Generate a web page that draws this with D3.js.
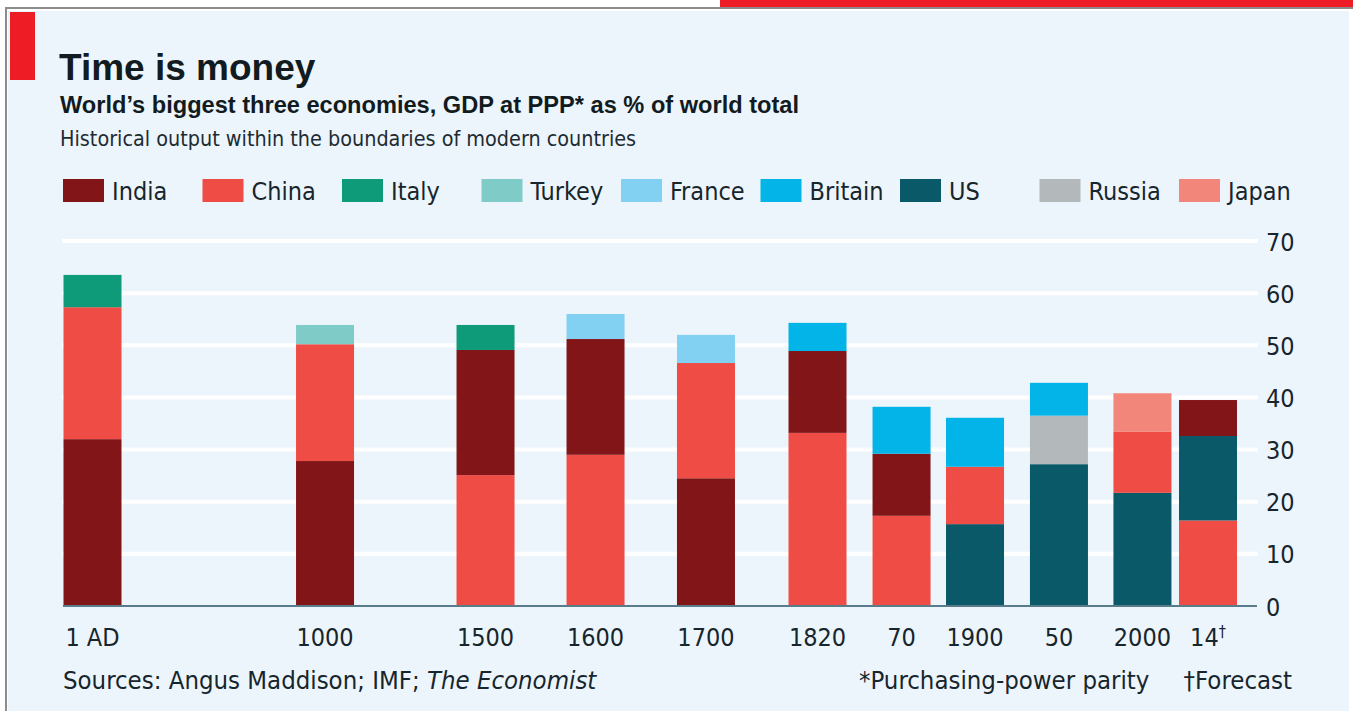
<!DOCTYPE html>
<html>
<head>
<meta charset="utf-8">
<script src="https://cdn.jsdelivr.net/npm/d3@7"></script>
<style>
  body { margin: 0; background: #fff; }
  svg { display: block; }
  .lab { font-family: 'DejaVu Sans Condensed', 'DejaVu Sans', sans-serif; font-stretch: condensed; fill: #17252c; }
  .head { font-family: 'Liberation Sans', Arial, sans-serif; fill: #111b20; }
</style>
</head>
<body>
<div id="chart"></div>
<script>
// periods shown on the x axis
const periods = ['1 AD', '1000', '1500', '1600', '1700', '1820', '70', '1900', '50', '2000', '14']
const countries = ['India', 'China', 'Italy', 'Turkey', 'France', 'Britain', 'US', 'Russia', 'Japan']

// GDP at PPP, % of world total (only the biggest three of each period)
const india   = [32.0, 27.8, 24.0, 22.2, 24.5, 15.7, 11.9, null, null, null, 6.9]
const china   = [25.3, 22.4, 25.1, 29.0, 22.1, 33.2, 17.3, 11.0, null, 11.7, 16.4]
const italy   = [6.2, null, 4.8, null, null, null, null, null, null, null, null]
const turkey  = [null, 3.7, null, null, null, null, null, null, null, null, null]
const france  = [null, null, null, 4.8, 5.4, null, null, null, null, null, null]
const britain = [null, null, null, null, null, 5.4, 9.0, 9.4, 6.3, null, null]
const us      = [null, null, null, null, null, null, null, 15.7, 27.2, 21.7, 16.2]
const russia  = [null, null, null, null, null, null, null, null, 9.3, null, null]
const japan   = [null, null, null, null, null, null, null, null, null, 7.4, null]

const yTicks = [0, 10, 20, 30, 40, 50, 60, 70]

const series = { India: india, China: china, Italy: italy, Turkey: turkey, France: france,
    Britain: britain, US: us, Russia: russia, Japan: japan }

const colors = {
    India: '#811518', China: '#ef4c45', Italy: '#0e9b79', Turkey: '#7ecbc8', France: '#82d0f2',
    Britain: '#03b4e8', US: '#0a5969', Russia: '#b3b8bb', Japan: '#f3867a'
}

// bar spacing on the page is not linear in time, so lay the periods out on slots
const slots = [0, 2.114, 3.573, 4.573, 5.577, 6.591, 7.355, 8.023, 8.786, 9.545, 10.141]

const width = 1353
const height = 711
const barW = 58
const labSize = '25px'

const svg = d3.select('#chart').append('svg')
    .attr('width', width)
    .attr('height', height)

// frame
svg.append('rect').attr('x', 720).attr('y', 0).attr('width', width - 720).attr('height', 7).attr('fill', '#ee1c25')
svg.append('line').attr('x1', 5).attr('x2', width).attr('y1', 8).attr('y2', 8).attr('stroke', '#8c8c8c').attr('stroke-width', 2)
svg.append('line').attr('x1', 6).attr('x2', 6).attr('y1', 8).attr('y2', height).attr('stroke', '#8c8c8c').attr('stroke-width', 2)
svg.append('rect').attr('x', 8).attr('y', 11).attr('width', 1341).attr('height', height - 11).attr('fill', '#edf5fc')
svg.append('rect').attr('x', 10).attr('y', 12).attr('width', 25).attr('height', 68).attr('fill', '#ee1c25')

// titles
svg.append('text').attr('class', 'head').attr('x', 59).attr('y', 80)
    .style('font-size', '37px').style('font-weight', 'bold').text('Time is money')
svg.append('text').attr('class', 'head').attr('x', 60).attr('y', 113)
    .style('font-size', '23.6px').style('font-weight', 'bold')
    .text('World\u2019s biggest three economies, GDP at PPP* as % of world total')
svg.append('text').attr('class', 'lab').attr('x', 60).attr('y', 146)
    .style('font-size', '21.4px').style('fill', '#1d2b33')
    .text('Historical output within the boundaries of modern countries')

// legend
const legendX = d3.scalePoint().domain(countries).range([63, 1179])
const legend = svg.append('g').selectAll('g')
    .data(countries)
    .join('g')
    .attr('transform', d => `translate(${legendX(d)}, 179)`)
legend.append('rect').attr('width', 41).attr('height', 23).attr('fill', d => colors[d])
legend.append('text').attr('class', 'lab').attr('x', 49).attr('y', 21)
    .style('font-size', labSize).text(d => d)

// scales
const x = d3.scaleLinear().domain([0, slots[slots.length - 1]]).range([92.5, 1208])
const y = d3.scaleLinear().domain([0, 70]).range([606, 241])

// gridlines
svg.append('g').selectAll('line')
    .data(yTicks.filter(d => d > 0))
    .join('line')
    .attr('x1', 62).attr('x2', 1258)
    .attr('y1', d => y(d)).attr('y2', d => y(d))
    .attr('stroke', '#fff').attr('stroke-width', 4)

// stack each bar with the biggest economy at the bottom
const stacks = periods.map((p, i) => {
    const parts = countries.filter(c => series[c][i] != null)
        .map(c => ({ country: c, value: series[c][i] }))
        .sort((a, b) => b.value - a.value)
    let acc = 0
    parts.forEach(d => { d.y0 = acc; acc += d.value; d.y1 = acc })
    return { period: p, i: i, parts: parts }
})

svg.append('g').selectAll('g')
    .data(stacks)
    .join('g')
    .attr('transform', d => `translate(${x(slots[d.i]) - barW / 2}, 0)`)
    .selectAll('rect')
    .data(d => d.parts)
    .join('rect')
    .attr('x', 0)
    .attr('width', barW)
    .attr('y', d => y(d.y1))
    .attr('height', d => y(d.y0) - y(d.y1))
    .attr('fill', d => colors[d.country])

// baseline
svg.append('line').attr('x1', 63).attr('x2', 1257).attr('y1', y(0)).attr('y2', y(0))
    .attr('stroke', '#587c8a').attr('stroke-width', 2)

// y axis on the right
const yAxis = svg.append('g')
    .attr('transform', 'translate(1258, 0)')
    .call(d3.axisRight(y).tickValues(yTicks).tickSize(0).tickPadding(8))
yAxis.select('.domain').remove()
yAxis.selectAll('text').attr('class', 'lab').attr('dy', '0.36em')
    .style('font-size', labSize).attr('fill', null)

// x labels
const xl = svg.append('g').selectAll('text')
    .data(stacks)
    .join('text')
    .attr('class', 'lab')
    .attr('x', d => x(slots[d.i]))
    .attr('y', 646)
    .attr('text-anchor', 'middle')
    .style('font-size', labSize)
xl.append('tspan').text(d => d.period)
xl.filter(d => d.period === '14').append('tspan')
    .attr('dy', -9).style('font-size', '16px').text('\u2020')

// footnotes
const src = svg.append('text').attr('class', 'lab').attr('x', 63).attr('y', 689).style('font-size', '25.5px')
src.append('tspan').text('Sources: Angus Maddison; IMF; ')
src.append('tspan').style('font-style', 'italic').text('The Economist')
svg.append('text').attr('class', 'lab').attr('x', 859).attr('y', 689).style('font-size', '25.5px')
    .text('*Purchasing-power parity')
svg.append('text').attr('class', 'lab').attr('x', 1292).attr('y', 689).attr('text-anchor', 'end')
    .style('font-size', '25.5px').text('\u2020Forecast')
</script>
</body>
</html>
